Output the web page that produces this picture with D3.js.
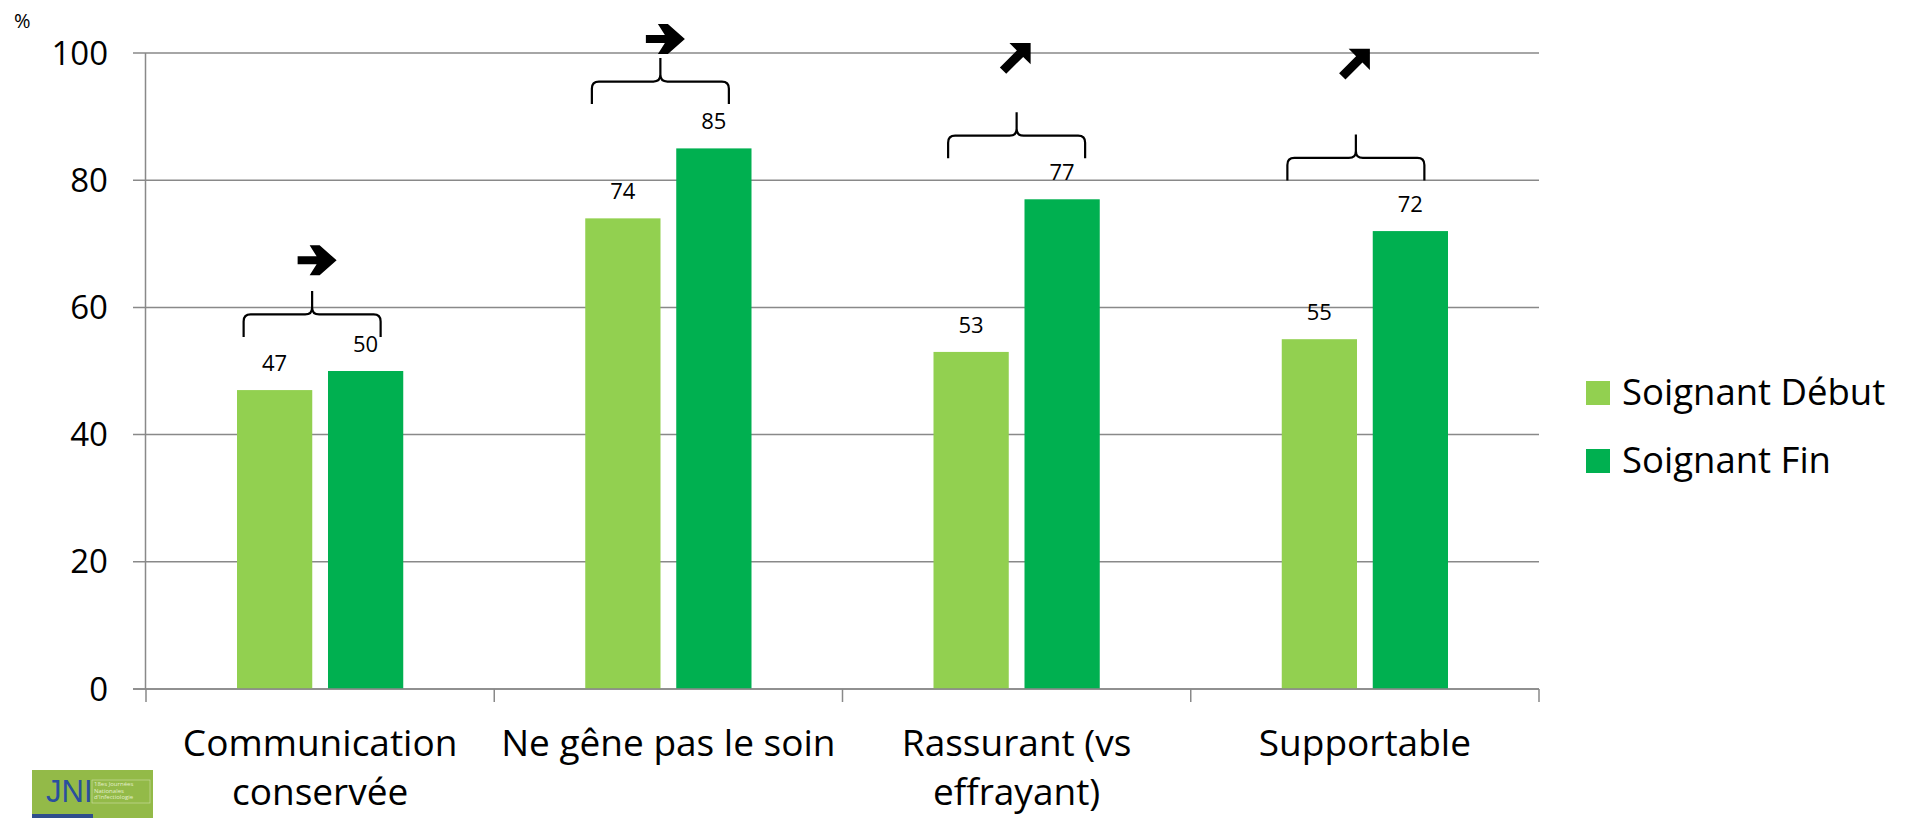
<!DOCTYPE html>
<html>
<head>
<meta charset="utf-8">
<script src="https://cdn.jsdelivr.net/npm/d3@7"></script>
<style>
  html, body { margin: 0; padding: 0; background: #fff; }
  svg { display: block; }
  text { font-family: "Open Sans", Lato, sans-serif; fill: #000; }
</style>
</head>
<body>
<svg id="chart" width="1912" height="818"></svg>
<script>
// ---- data ----
const categories = ["Communication conservée", "Ne gêne pas le soin", "Rassurant (vs effrayant)", "Supportable"];
const categoryLines = [["Communication", "conservée"], ["Ne gêne pas le soin"], ["Rassurant (vs", "effrayant)"], ["Supportable"]];
const seriesNames = ["Soignant Début", "Soignant Fin"];
const debutValues = [47, 74, 53, 55];
const finValues = [50, 85, 77, 72];
const yTicks = [0, 20, 40, 60, 80, 100];
const trendArrows = ["flat", "flat", "up", "up"];
// annotation levels (in % units): brace level and arrow level per category
const braceLevels = [58.9, 95.5, 87, 83.5];
const arrowLevels = [67.4, 102.2, 99.2, 98.3];

const colors = ["#92D050", "#00B050"];

const svg = d3.select("#chart");

const x0 = d3.scaleBand().domain(categories).range([146, 1539]).paddingInner(0).paddingOuter(0);
const x1 = d3.scaleBand().domain(seriesNames).range([0, x0.bandwidth()]).paddingInner(0.173).paddingOuter(1.0);
const y = d3.scaleLinear().domain([0, 100]).range([689, 53]);

const gridColor = "#898989";

// gridlines
svg.append("g").selectAll("line").data(yTicks).join("line")
  .attr("x1", 133).attr("x2", 1539)
  .attr("y1", d => y(d)).attr("y2", d => y(d))
  .attr("stroke", gridColor).attr("stroke-width", 1.5);

// y axis line
svg.append("line").attr("x1", 145.5).attr("x2", 145.5).attr("y1", y(100)).attr("y2", y(0))
  .attr("stroke", gridColor).attr("stroke-width", 1.5);

// y tick labels
svg.append("g").selectAll("text").data(yTicks).join("text")
  .attr("x", 108).attr("y", d => y(d) + 11.5)
  .attr("text-anchor", "end")
  .style("font-size", "33px")
  .text(d => d);

// % label
svg.append("text").attr("x", 14).attr("y", 28).style("font-size", "20px").text("%");

// category boundary ticks
const bounds = categories.map(c => x0(c)).concat([x0(categories[categories.length - 1]) + x0.bandwidth()]);
svg.append("g").selectAll("line").data(bounds).join("line")
  .attr("x1", d => d).attr("x2", d => d)
  .attr("y1", y(0)).attr("y2", y(0) + 13)
  .attr("stroke", gridColor).attr("stroke-width", 1.5);

// bars
const rows = categories.map((c, i) => ({ cat: c, vals: [debutValues[i], finValues[i]] }));
const groups = svg.append("g").selectAll("g").data(rows).join("g")
  .attr("transform", d => `translate(${x0(d.cat)},0)`);
groups.selectAll("rect").data(d => d.vals.map((v, j) => ({ s: seriesNames[j], v, j }))).join("rect")
  .attr("x", d => x1(d.s)).attr("width", x1.bandwidth())
  .attr("y", d => y(d.v)).attr("height", d => y(0) - y(d.v))
  .attr("fill", d => colors[d.j]);
groups.selectAll("text").data(d => d.vals.map((v, j) => ({ s: seriesNames[j], v, j }))).join("text")
  .attr("x", d => x1(d.s) + x1.bandwidth() / 2)
  .attr("y", d => y(d.v) - 19)
  .attr("text-anchor", "middle")
  .style("font-size", "22px")
  .text(d => d.v);

// x axis line (over bars)
svg.append("line").attr("x1", 133).attr("x2", 1539).attr("y1", y(0)).attr("y2", y(0))
  .attr("stroke", gridColor).attr("stroke-width", 1.5);

// category labels
const catG = svg.append("g").selectAll("text").data(categories).join("text")
  .attr("x", d => x0(d) + x0.bandwidth() / 2)
  .attr("y", 756)
  .attr("text-anchor", "middle")
  .style("font-size", "37px");
catG.each(function (d, i) {
  d3.select(this).selectAll("tspan").data(categoryLines[i]).join("tspan")
    .attr("x", x0(d) + x0.bandwidth() / 2)
    .attr("dy", (t, k) => k === 0 ? 0 : 49)
    .text(t => t);
});

// braces and arrows
const braceHalf = 68.5, braceLeg = 22.5, braceTip = 23.5, r = 7;
const braceShift = [-8, -8, 0, -9];
categories.forEach((c, i) => {
  const xc = x0(c) + x0.bandwidth() / 2 + braceShift[i];
  const yf = y(braceLevels[i]);
  const xa = xc - braceHalf, xb = xc + braceHalf;
  const yb = yf + braceLeg, yt = yf - braceTip;
  const p = `M${xa},${yb} L${xa},${yf + r} Q${xa},${yf} ${xa + r},${yf} L${xc - r},${yf} Q${xc},${yf} ${xc},${yf - r} L${xc},${yt}` +
            ` M${xc},${yf - r} Q${xc},${yf} ${xc + r},${yf} L${xb - r},${yf} Q${xb},${yf} ${xb},${yf + r} L${xb},${yb}`;
  svg.append("path").attr("d", p).attr("fill", "none").attr("stroke", "#000").attr("stroke-width", 2.2);

  const ay = y(arrowLevels[i]);
  if (trendArrows[i] === "flat") {
    const ax = xc + 5 - 19.5;
    svg.append("path")
      .attr("transform", `translate(${ax},${ay - 15})`)
      .attr("d", "M0,11 L19,11 L12,0 L22,0 L39,15 L22,30 L12,30 L19,19 L0,19 Z")
      .attr("fill", "#000");
  } else {
    const tx = xc - 1 + 15, ty = ay - 15;
    svg.append("path")
      .attr("transform", `translate(${tx},${ty}) rotate(-45)`)
      .attr("d", "M0,0 L-15,-15 L-15,-4.5 L-39,-4.5 L-39,4.5 L-15,4.5 L-15,15 Z")
      .attr("fill", "#000");
  }
});

// legend
const leg = svg.append("g").selectAll("g").data(seriesNames).join("g")
  .attr("transform", (d, i) => `translate(1586,${381 + i * 68})`);
leg.append("rect").attr("width", 24).attr("height", 24).attr("fill", (d, i) => colors[i]);
leg.append("text").attr("x", 36).attr("y", 24).style("font-size", "36.5px").text(d => d);

// logo
const logo = svg.append("g").attr("transform", "translate(32,770)");
logo.append("rect").attr("width", 121).attr("height", 48).attr("fill", "#93BA48");
logo.append("rect").attr("y", 44).attr("width", 61).attr("height", 4).attr("fill", "#2F4E8C");
logo.append("text").attr("x", 14).attr("y", 32).style("font-size", "31px").style("fill", "#2A4F9E")
  .style("font-family", "'Liberation Sans', sans-serif").text("JNI");
logo.append("rect").attr("x", 60).attr("y", 10).attr("width", 58).attr("height", 23)
  .attr("fill", "none").attr("stroke", "#CFE0A8").attr("stroke-width", 0.6);
const small = ["18es Journées", "Nationales", "d'Infectiologie"];
logo.append("g").selectAll("text").data(small).join("text")
  .attr("x", 62).attr("y", (d, i) => 16 + i * 6.5)
  .style("font-size", "6px").style("fill", "#E4EFCC").text(d => d);
</script>
</body>
</html>
